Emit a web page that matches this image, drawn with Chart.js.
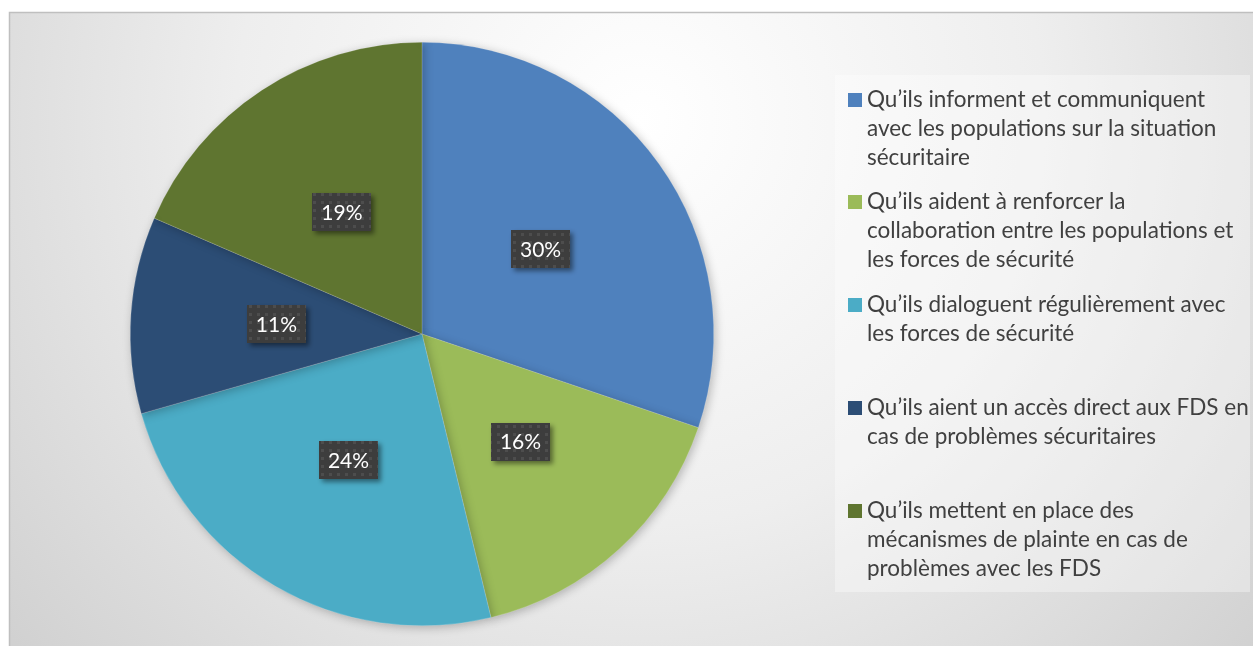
<!DOCTYPE html>
<html>
<head>
<meta charset="utf-8">
<script src="https://cdn.jsdelivr.net/npm/chart.js@4"></script>
<style>
  html, body { margin: 0; padding: 0; background: #fff; }
  #wrap { width: 1253px; height: 646px; position: relative; }
</style>
</head>
<body>
<div id="wrap"><canvas id="pie" width="1253" height="646"></canvas></div>
<script>
const labels = [
  ["Qu’ils informent et communiquent", "avec les populations sur la situation", "sécuritaire"],
  ["Qu’ils aident à renforcer la", "collaboration entre les populations et", "les forces de sécurité"],
  ["Qu’ils dialoguent régulièrement avec", "les forces de sécurité"],
  ["Qu’ils aient un accès direct aux FDS en", "cas de problèmes sécuritaires"],
  ["Qu’ils mettent en place des", "mécanismes de plainte en cas de", "problèmes avec les FDS"]
];
const values = [30.2, 16.0, 24.4, 10.9, 18.5];
const pctLabels = ["30%", "16%", "24%", "11%", "19%"];
const colors = ["#4f81bd", "#9bbb59", "#4bacc6", "#2c4d75", "#5f7530"];

const FONT = "Lato, 'Open Sans', sans-serif";

// frame + gradient background
const bgPlugin = {
  id: "bg",
  beforeDraw(chart) {
    const ctx = chart.ctx;
    ctx.save();
    const g = ctx.createRadialGradient(640, 120, 0, 640, 120, 900);
    g.addColorStop(0, "#ffffff");
    g.addColorStop(0.45, "#eeeeee");
    g.addColorStop(1, "#cbcbcb");
    ctx.fillStyle = g;
    ctx.fillRect(10, 13, 1243, 633);
    ctx.strokeStyle = "#bfbfbf";
    ctx.lineWidth = 1.5;
    ctx.strokeRect(9.5, 12.5, 1250, 640);
    ctx.restore();
  },
  beforeDatasetsDraw(chart) {
    const ctx = chart.ctx;
    ctx.save();
    ctx.shadowColor = "rgba(0,0,0,0.25)";
    ctx.shadowBlur = 10;
    ctx.shadowOffsetX = 2;
    ctx.shadowOffsetY = 2;
  },
  afterDatasetsDraw(chart) {
    chart.ctx.restore();
  }
};

let dotPattern = null;
function getPattern(ctx) {
  if (dotPattern) return dotPattern;
  const c = document.createElement("canvas");
  c.width = 8; c.height = 8;
  const p = c.getContext("2d");
  p.fillStyle = "#3d3d3d";
  p.fillRect(0, 0, 8, 8);
  p.fillStyle = "#4d4d4d";
  p.fillRect(1, 1, 3, 3);
  dotPattern = ctx.createPattern(c, "repeat");
  return dotPattern;
}

const labelPlugin = {
  id: "pctLabels",
  afterDraw(chart) {
    const ctx = chart.ctx;
    const meta = chart.getDatasetMeta(0);
    ctx.save();
    ctx.font = "21px " + FONT;
    ctx.textAlign = "center";
    ctx.textBaseline = "middle";
    meta.data.forEach((arc, i) => {
      const pt = arc.getCenterPoint();
      const txt = pctLabels[i];
      const w = ctx.measureText(txt).width + 18;
      const h = 38;
      ctx.save();
      ctx.shadowColor = "rgba(0,0,0,0.45)";
      ctx.shadowBlur = 5;
      ctx.shadowOffsetX = 3;
      ctx.shadowOffsetY = 3;
      ctx.fillStyle = getPattern(ctx);
      ctx.fillRect(Math.round(pt.x - w / 2), Math.round(pt.y - h / 2), Math.round(w), h);
      ctx.restore();
      ctx.fillStyle = "#ffffff";
      ctx.fillText(txt, pt.x, pt.y + 1);
    });
    ctx.restore();
  }
};

const legendPlugin = {
  id: "sideLegend",
  afterDraw(chart) {
    const ctx = chart.ctx;
    ctx.save();
    ctx.fillStyle = "rgba(255,255,255,0.35)";
    ctx.fillRect(835, 75, 415, 517);
    ctx.font = "22.5px " + FONT;
    ctx.textBaseline = "middle";
    const itemTop = [100, 202, 305, 408, 511];
    labels.forEach((lines, i) => {
      const y0 = itemTop[i];
      ctx.fillStyle = chart.data.datasets[0].backgroundColor[i];
      ctx.fillRect(848, y0 - 7, 14, 14);
      ctx.fillStyle = "#404040";
      lines.forEach((ln, j) => {
        ctx.fillText(ln, 867, y0 + j * 29);
      });
    });
    ctx.restore();
  }
};

new Chart(document.getElementById("pie"), {
  type: "pie",
  data: {
    labels: labels.map(l => l.join(" ")),
    datasets: [{
      data: values,
      backgroundColor: colors,
      borderWidth: 0.5,
      borderColor: "rgba(255,255,255,0.35)"
    }]
  },
  options: {
    responsive: false,
    animation: false,
    layout: { padding: { left: 130, right: 539, top: 42, bottom: 20 } },
    plugins: {
      legend: { display: false },
      tooltip: { enabled: false }
    }
  },
  plugins: [bgPlugin, labelPlugin, legendPlugin]
});
</script>
</body>
</html>
